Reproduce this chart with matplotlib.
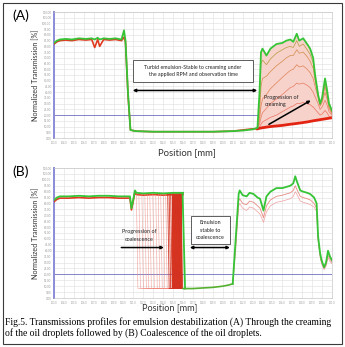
import numpy as np
import matplotlib.pyplot as plt
from matplotlib.patches import Rectangle

plt.rcParams['font.family'] = ['Lato', 'DejaVu Sans']

# ---------------- panel A : creaming ----------------
pos_a_left = [103.0, 103.3, 103.6, 104.2, 104.8, 105.5, 106.2, 106.8, 107.1, 107.4,
              107.6, 108.0, 108.6, 109.2, 109.8, 110.05, 110.2, 110.45, 110.7, 111.2,
              113.0, 115.0, 117.0, 119.0, 121.0, 122.0, 123.0, 123.5]
green_a_left = [83, 85, 86, 86.5, 86, 87, 86.5, 87, 86, 87.5,
                86, 87, 86.5, 87, 86, 94, 85, 40, 7, 6,
                5.5, 5.5, 5.5, 5.5, 6, 6.5, 7.5, 9]
red_a_left = [82, 84, 85, 85.5, 85, 86, 85.5, 86, 79, 86,
              80, 86, 85.5, 86, 85, 88, 84, 38, 7, 6,
              5.5, 5.5, 5.5, 5.5, 6, 7, 8, 8]

pos_cream = [123.5, 123.7, 123.85, 124.0, 124.2, 124.4, 124.8, 125.4, 126.0, 126.4,
             126.8, 127.1, 127.45, 127.7, 128.1, 128.5, 128.8, 129.1, 129.3, 129.6,
             129.8, 130.0, 130.3, 130.5, 130.7, 131.0]
cream_profiles = [
    [8, 8.5, 8.7, 9, 9.2, 9.5, 10, 10.5, 11, 11.5, 12, 12.3, 12.7, 13, 13.5, 14, 14.5, 15, 15.3, 15.7, 16, 16.3, 16.7, 17, 17.3, 17.7],
    [9, 10, 12, 14, 15, 16, 18, 20, 23, 25, 27, 28, 30, 30, 31, 30, 29, 27, 25, 22, 20, 21, 24, 22, 19, 18],
    [9, 12, 18, 22, 24, 26, 30, 34, 38, 41, 44, 45, 48, 47, 48, 46, 44, 40, 36, 30, 25, 27, 33, 29, 23, 20],
    [9, 15, 28, 34, 36, 38, 43, 48, 53, 56, 59, 60, 64, 62, 63, 60, 57, 52, 45, 35, 28, 31, 40, 34, 26, 21],
    [9, 20, 45, 52, 53, 54, 58, 63, 67, 70, 72, 72, 77, 74, 75, 71, 67, 61, 50, 37, 29, 33, 45, 37, 28, 22],
    [10, 30, 65, 68, 66, 64, 69, 74, 77, 79, 80, 79, 85, 80, 82, 77, 73, 66, 53, 38, 30, 34, 49, 40, 29, 23],
    [10, 40, 75, 78, 75, 72, 78, 82, 83, 85, 86, 84, 91, 85, 87, 82, 78, 70, 55, 38, 30, 35, 52, 42, 30, 24],
]
cream_colors = ['#e32412', '#ea5a48', '#e4664a', '#dc6e3a', '#cc7a2c', '#a88c22', '#36c436']

# ---------------- panel B : coalescence ----------------
pos_b_left = [103.0, 103.3, 103.6, 104.5, 105.5, 106.5, 107.5, 108.5, 109.5, 110.3,
              110.65, 110.8, 110.95, 111.15, 111.3, 112.0, 113.0, 114.0, 115.0, 116.0]
plateau_b = [83, 85, 86, 86, 86.5, 86, 86.5, 86.5, 86, 86,
             86, 76, 82, 91, 89, 88.5, 89, 88.5, 89, 89]
drops_sparse = [111.35, 111.6, 111.9, 112.2, 112.45, 112.7, 113.0, 113.3, 113.55, 113.8, 114.05, 114.3]
drops_dense = [114.5, 114.65, 114.8, 114.95, 115.05, 115.15, 115.25, 115.35, 115.45, 115.55,
               115.62, 115.7, 115.78, 115.85]
drop_final = 116.0
pos_b_low = [116.0, 117.0, 118.0, 119.0, 120.0, 120.6, 121.0]
low_b = [8, 8, 8.5, 9, 10, 11, 12]
pos_b_right = [121.0, 121.3, 121.6, 121.7, 122.0, 122.4, 122.7, 123.1, 123.5, 123.75,
               124.1, 124.4, 124.8, 125.4, 126.0, 126.4, 126.8, 127.1, 127.3, 127.45,
               127.8, 128.1, 128.5, 128.8, 129.2, 129.45, 129.6, 129.8, 129.95, 130.2,
               130.4, 130.6, 130.8, 131.0]
green_b_right = [12, 50, 88, 91, 87, 86, 89, 88, 85, 84, 74, 86, 90, 93, 93, 94, 95, 97, 103, 99,
                 91, 90, 89, 88, 85, 80, 52, 38, 32, 26, 30, 40, 35, 32]
pink_b_right = [12, 45, 82, 84, 80, 79, 82, 81, 78, 76, 68, 78, 83, 86, 87, 88, 89, 91, 95, 92,
                86, 85, 84, 83, 80, 76, 50, 36, 30, 25, 28, 36, 33, 30]
pink2_b_right = [12, 40, 78, 80, 76, 74, 77, 76, 73, 71, 64, 73, 78, 81, 82, 83, 84, 86, 90, 88,
                 82, 81, 80, 79, 77, 73, 48, 35, 29, 24, 27, 34, 31, 29]

x_ticks = np.arange(103, 132, 1)
y_ticks = np.arange(0, 111, 5)


def style_axes(ax):
    ax.set_xlim(103, 131)
    ax.set_ylim(0, 110)
    ax.set_xticks(x_ticks)
    ax.set_yticks(y_ticks)
    ax.set_xticklabels(['%.1f' % v for v in x_ticks], fontsize=1.8, color='#888888')
    ax.set_yticklabels(['%.2f' % v for v in y_ticks], fontsize=2.1, color='#888888')
    ax.tick_params(length=1, width=0.3, pad=0.8, colors='#999999')
    ax.grid(True, color='#dedede', lw=0.4)
    ax.set_axisbelow(True)
    for s in ['top', 'right', 'bottom']:
        ax.spines[s].set_color('#c8c8c8')
        ax.spines[s].set_linewidth(0.5)
    ax.spines['left'].set_color('#8c8cd8')
    ax.spines['left'].set_linewidth(1.4)
    ax.axhline(20, color='#7373c4', lw=0.6, zorder=1)
    ax.set_ylabel('Normalized Transmission [%]', fontsize=5.2, labelpad=2, color='#333333')


fig = plt.figure(figsize=(3.45, 3.47), dpi=100)
fig.add_artist(Rectangle((3 / 345, 3 / 347), 339 / 345, 341 / 347, transform=fig.transFigure,
                         fill=False, edgecolor='#3a3a3a', lw=0.8))

# ---- A ----
axa = fig.add_axes([54 / 345, 1 - 138 / 347, 278 / 345, 126 / 347])
style_axes(axa)
axa.fill_between(pos_cream, cream_profiles[0], cream_profiles[-1], color='#f6d2ca', lw=0, zorder=2)
axa.plot(pos_a_left, red_a_left, color='#e03a20', lw=1.2, zorder=3)
axa.plot(pos_a_left, green_a_left, color='#36c436', lw=1.3, zorder=4)
for k, (prof, col) in enumerate(zip(cream_profiles, cream_colors)):
    if k == 0:
        axa.plot(pos_cream, prof, color=col, lw=2.0, zorder=3)
    elif k == len(cream_profiles) - 1:
        axa.plot(pos_cream, prof, color=col, lw=1.3, zorder=4)
    else:
        axa.plot(pos_cream, prof, color=col, lw=0.5, alpha=0.8, zorder=3)

axa.add_patch(Rectangle((111.0, 49), 12.0, 19, fill=True, facecolor='white',
                        edgecolor='#444444', lw=0.6, zorder=5))
axa.text(117.0, 58.5, 'Turbid emulsion-Stable to creaming under\nthe applied RPM and observation time',
         ha='center', va='center', fontsize=3.8, linespacing=1.7, color='#222222', zorder=6)
axa.annotate('', xy=(123.75, 41.5), xytext=(110.65, 41.5),
             arrowprops=dict(arrowstyle='<|-|>', lw=1.1, color='black', mutation_scale=4), zorder=6)
axa.text(124.2, 32, 'Progression of\ncreaming', ha='left', va='center', fontsize=3.9,
         linespacing=1.5, color='#222222', zorder=6)
axa.annotate('', xy=(129.1, 34), xytext=(124.4, 10.7),
             arrowprops=dict(arrowstyle='-|>', lw=1.1, color='black', mutation_scale=4), zorder=6)

fig.text(12 / 345, 1 - 16 / 347, '(A)', fontsize=10, ha='left', va='center')
fig.text(187 / 345, 1 - 153 / 347, 'Position [mm]', fontsize=6.8, ha='center', va='center',
         color='#333333')

# ---- B ----
axb = fig.add_axes([54 / 345, 1 - 298 / 347, 278 / 345, 130 / 347])
style_axes(axb)
axb.plot(pos_b_left, [v - 1.5 for v in plateau_b], color='#e03a20', lw=1.2, zorder=3)
for d in drops_sparse:
    axb.plot([d - 0.05, d + 0.1, drop_final], [88.5, 8, 8], color='#f08a80', lw=0.4, alpha=0.8, zorder=3)
axb.fill_between([114.9, 115.85], 8, 88, color='#d93a22', lw=0, zorder=3)
for d in drops_dense:
    axb.plot([d - 0.05, d + 0.1, drop_final], [88.5, 8, 8], color='#d43220', lw=0.6, zorder=3)
axb.plot([drop_final - 0.05, drop_final + 0.2], [88.5, 8], color='#36c436', lw=1.3, zorder=4)
axb.plot(pos_b_left, plateau_b, color='#36c436', lw=1.3, zorder=4)
axb.plot(pos_b_low, low_b, color='#56b030', lw=1.2, zorder=4)
axb.plot(pos_b_right, pink2_b_right, color='#f0a0a0', lw=0.5, zorder=3)
axb.plot(pos_b_right, pink_b_right, color='#e88a80', lw=0.6, zorder=3)
axb.plot(pos_b_right, green_b_right, color='#36c436', lw=1.3, zorder=4)

axb.text(111.6, 53, 'Progression of\ncoalescence', ha='center', va='center', fontsize=3.9,
         linespacing=1.6, color='#222222', zorder=6)
axb.annotate('', xy=(114.35, 42.7), xytext=(109.5, 42.7),
             arrowprops=dict(arrowstyle='-|>', lw=1.1, color='black', mutation_scale=4), zorder=6)
axb.add_patch(Rectangle((116.75, 46), 3.95, 23, fill=True, facecolor='white',
                        edgecolor='#444444', lw=0.6, zorder=5))
axb.text(118.72, 57.5, 'Emulsion\nstable to\ncoalescence', ha='center', va='center', fontsize=3.9,
         linespacing=1.6, color='#222222', zorder=6)
axb.annotate('', xy=(121.0, 42.7), xytext=(116.4, 42.7),
             arrowprops=dict(arrowstyle='<|-|>', lw=1.1, color='black', mutation_scale=4), zorder=6)

fig.text(12 / 345, 1 - 172 / 347, '(B)', fontsize=10, ha='left', va='center')
fig.text(170 / 345, 1 - 308 / 347, 'Position [mm]', fontsize=6.6, ha='center', va='center',
         color='#333333')

# ---- caption ----
fig.text(5 / 345, 1 - 322 / 347,
         'Fig.5. Transmissions profiles for emulsion destabilization (A) Through the creaming',
         fontsize=6.9, family='Liberation Serif', ha='left', va='center')
fig.text(5 / 345, 1 - 333 / 347,
         'of the oil droplets followed by (B) Coalescence of the oil droplets.',
         fontsize=6.9, family='Liberation Serif', ha='left', va='center')

fig.savefig('out.png', dpi=100)
